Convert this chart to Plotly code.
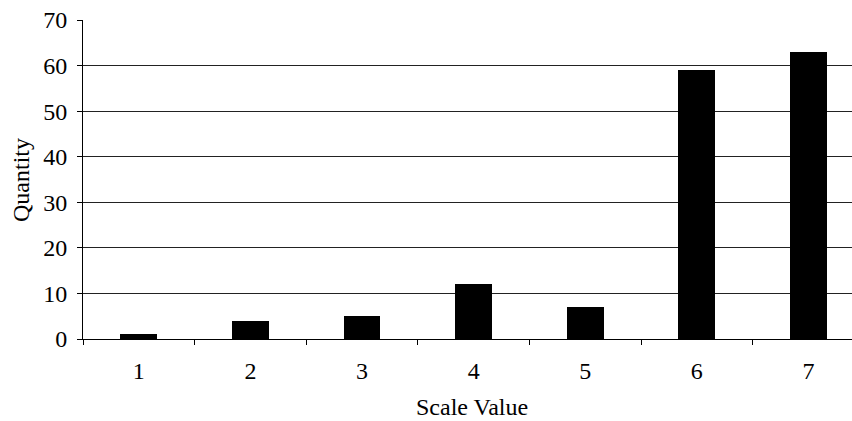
import plotly.graph_objects as go

categories = ["1", "2", "3", "4", "5", "6", "7"]
quantities = [1, 4, 5, 12, 7, 59, 63]
y_ticks = [0, 10, 20, 30, 40, 50, 60, 70]

FONT = "Liberation Serif"
FS = 24

fig = go.Figure()
fig.add_trace(go.Bar(
    x=categories, y=quantities,
    marker=dict(color="black", line=dict(width=0)),
    width=0.33,
))

fig.update_layout(
    width=852, height=421,
    margin=dict(l=83, r=0, t=20, b=82),
    paper_bgcolor="white", plot_bgcolor="white",
    showlegend=False,
    font=dict(family=FONT, size=FS, color="black"),
    bargap=0,
)
fig.update_xaxes(
    type="category",
    range=[-0.5, 6.39],
    tickson="boundaries",
    ticks="outside", ticklen=5, tickcolor="black", tickwidth=1,
    showline=True, linecolor="black", linewidth=1,
    showgrid=False,
    ticklabelstandoff=10,
    tickfont=dict(family=FONT, size=FS, color="black"),
)
fig.update_yaxes(
    range=[0, 70],
    tickvals=y_ticks,
    ticks="outside", ticklen=5, tickcolor="black", tickwidth=1,
    showline=True, linecolor="black", linewidth=1,
    showgrid=True, gridcolor="#222222", gridwidth=1,
    zeroline=False,
    ticklabelstandoff=5,
    tickfont=dict(family=FONT, size=FS, color="black"),
)
fig.add_annotation(
    text="Quantity", xref="paper", yref="paper",
    x=(21 - 83)/769, y=(339 - 180)/319, xanchor="center", yanchor="middle",
    textangle=-90, showarrow=False,
    font=dict(family=FONT, size=FS, color="black"),
)
fig.add_annotation(
    text="Scale Value", xref="paper", yref="paper",
    x=(472 - 83)/769, y=-(421 - 339)/319, xanchor="center", yanchor="bottom",
    showarrow=False, borderpad=0,
    font=dict(family=FONT, size=FS, color="black"),
)

fig.write_html("out.html")
